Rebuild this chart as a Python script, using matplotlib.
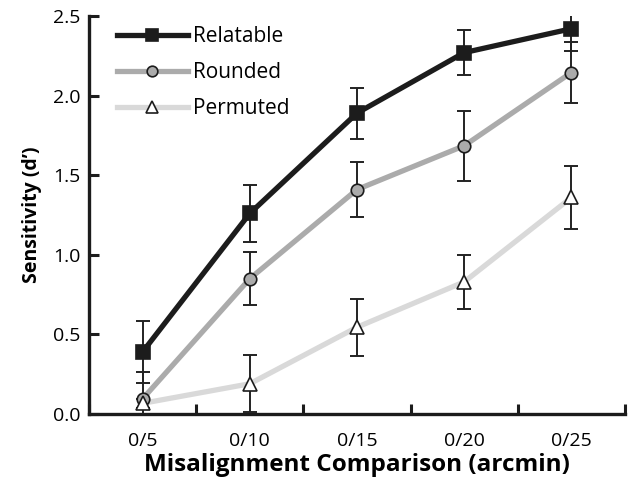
import matplotlib
matplotlib.use("Agg")
import matplotlib.pyplot as plt
import numpy as np

categories = ["0/5", "0/10", "0/15", "0/20", "0/25"]
relatable = [0.39, 1.26, 1.89, 2.27, 2.42]
relatable_err = [0.195, 0.18, 0.16, 0.14, 0.14]
rounded = [0.095, 0.85, 1.41, 1.685, 2.145]
rounded_err = [0.17, 0.165, 0.17, 0.22, 0.19]
permuted = [0.067, 0.19, 0.545, 0.83, 1.36]
permuted_err = [0.03, 0.18, 0.18, 0.17, 0.195]
yticks = [0.0, 0.5, 1.0, 1.5, 2.0, 2.5]

plt.rcParams['font.family'] = ['Open Sans', 'DejaVu Sans']

fig = plt.figure(figsize=(6.29, 4.82), dpi=100)
ax = fig.add_axes([89/629, 68/482, 536/629, 398/482])

x = np.arange(len(categories))
series = [
    ("Relatable", relatable, relatable_err, "#1c1c1c", "s", "#1c1c1c", 9.5),
    ("Rounded", rounded, rounded_err, "#ababab", "o", "#ababab", 9),
    ("Permuted", permuted, permuted_err, "#d9d9d9", "^", "white", 10),
]
for i, (name, vals, errs, col, mk, face, ms) in enumerate(series):
    ax.errorbar(x, vals, yerr=errs, fmt="none", ecolor="#222222", elinewidth=1.4,
                capsize=4.7, capthick=1.4, zorder=3)
    ax.plot(x, vals, color=col, lw=3.8, zorder=2 + 0.1 * (3 - i), solid_capstyle="butt")
    ax.plot(x, vals, linestyle="none", marker=mk, markersize=ms, markerfacecolor=face,
            markeredgecolor="#1c1c1c", markeredgewidth=1.2, zorder=4)
    # legend proxy
    ax.plot([], [], color=col, lw=3.8, marker=mk, markersize=ms * 0.85,
            markerfacecolor=face, markeredgecolor="#1c1c1c", markeredgewidth=1.2,
            label=name)

ax.set_xlim(-0.5, 4.5)
ax.set_ylim(0, 2.5)
ax.set_xticks(x)
ax.set_xticklabels(categories, fontsize=14)
ax.set_xticks(np.arange(-0.5, 4.6, 1.0), minor=True)
ax.tick_params(axis="x", which="major", length=0, pad=13)
ax.tick_params(axis="x", which="minor", direction="in", length=7, width=2.2, color="#1c1c1c")
ax.set_yticks(yticks)
ax.set_yticklabels([f"{v:.1f}" for v in yticks], fontsize=14)
ax.tick_params(axis="y", direction="in", length=7, width=2.2, color="#1c1c1c", pad=6)

for s in ["top", "right"]:
    ax.spines[s].set_visible(False)
for s in ["left", "bottom"]:
    ax.spines[s].set_linewidth(2.4)
    ax.spines[s].set_color("#1c1c1c")

ax.set_xlabel("Misalignment Comparison (arcmin)", fontsize=17.5, fontweight="bold", labelpad=2)
ax.set_ylabel("Sensitivity (d’)", fontsize=14, fontweight="bold", labelpad=8)

leg = ax.legend(loc="upper left", bbox_to_anchor=(0.017, 1.022), frameon=False, fontsize=15,
                handlelength=3.4, labelspacing=0.72, handletextpad=0.25)

fig.savefig("out.png", dpi=100)
